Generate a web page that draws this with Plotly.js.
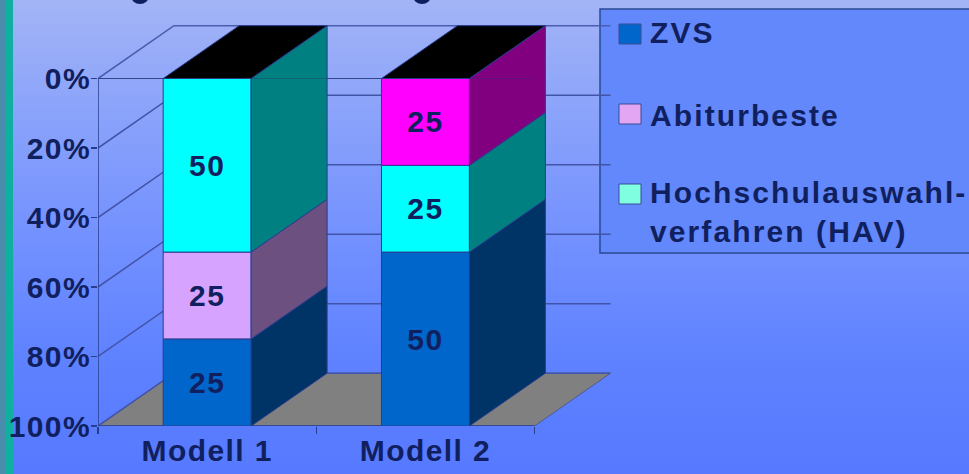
<!DOCTYPE html>
<html>
<head>
<meta charset="utf-8">
<script src="https://cdn.plot.ly/plotly-3.0.1.min.js"></script>
<style>
  html, body { margin: 0; padding: 0; width: 969px; height: 474px; overflow: hidden; }
  body { background: linear-gradient(180deg, #A3B4F6 0%, #8CA4FA 22%, #7391FF 50%, #5F82FF 75%, #5679FF 100%); }
  #chart { width: 969px; height: 474px; }
  #chart text { letter-spacing: 1.4px; }
  #chart .annotation text { letter-spacing: 2.1px; }
</style>
</head>
<body>
<div id="chart"></div>
<script>
// Studienplatz-Vergabe: share of each allocation route per model
const categories = ['Modell 1', 'Modell 2'];
const zvs = [25, 50];
const abiturbeste = [25, 25];
const hav = [50, 25];

const percentTicks = [0, 20, 40, 60, 80, 100];
const legendLabels = ['ZVS', 'Abiturbeste', 'Hochschulauswahl-<br>verfahren (HAV)'];
const legendColors = ['#0066CC', '#E2A6F2', '#80FFE0'];

// Stacking order from the top of each column
const stackOrder = [['hav', 'abiturbeste', 'zvs'], ['abiturbeste', 'hav', 'zvs']];

const seriesValues = { zvs, abiturbeste, hav };
const frontColors = {
  zvs: ['#0066CC', '#0066CC'],
  abiturbeste: ['#D6A3FF', '#FF00FF'],
  hav: ['#00FFFF', '#00FFFF']
};
const sideColors = {
  zvs: ['#003366', '#003366'],
  abiturbeste: ['#6B5080', '#800080'],
  hav: ['#008080', '#008080']
};

// Oblique projection expressed in axis units
const depthX = 0.348;
const depthY = 15.2;
const barWidth = 0.403;
const edge = '#2A3C8E';
const grid = '#4254A8';
const ink = '#10205E';
const fontFamily = '"Liberation Sans", Arial, sans-serif';

const centers = categories.map((_, i) => i + 0.5);

// Cumulative start of every segment, per column
const bases = {};
stackOrder.forEach((order, c) => {
  let run = 0;
  order.forEach(key => {
    (bases[key] = bases[key] || [])[c] = run;
    run += seriesValues[key][c];
  });
});

const seriesKeys = ['hav', 'abiturbeste', 'zvs'];

const frontTraces = seriesKeys.map(key => ({
  type: 'bar',
  x: centers,
  y: seriesValues[key],
  base: bases[key],
  width: barWidth,
  text: seriesValues[key].map(String),
  textposition: 'inside',
  insidetextanchor: 'middle',
  textangle: 0,
  insidetextfont: { family: fontFamily, size: 30, color: ink, weight: 700 },
  marker: { color: frontColors[key], line: { color: edge, width: 1 } },
  hoverinfo: 'skip',
  showlegend: false
}));

function face(xs, ys, fill) {
  return {
    type: 'scatter', mode: 'lines', x: xs, y: ys, fill: 'toself', fillcolor: fill,
    line: { color: edge, width: 1 }, hoverinfo: 'skip', showlegend: false
  };
}

const sideTraces = [];
seriesKeys.forEach(key => {
  centers.forEach((c, i) => {
    const right = c + barWidth / 2;
    const top = bases[key][i];
    const bottom = top + seriesValues[key][i];
    sideTraces.push(face(
      [right, right + depthX, right + depthX, right, right],
      [top, top - depthY, bottom - depthY, bottom, top],
      sideColors[key][i]
    ));
  });
});

const topTraces = centers.map(c => {
  const left = c - barWidth / 2;
  const right = c + barWidth / 2;
  return face(
    [left, left + depthX, right + depthX, right, left],
    [0, -depthY, -depthY, 0, 0],
    '#000000'
  );
});

// Faint front edge of the plot that shows through the columns' side faces
const frontEdge = {
  type: 'scatter', mode: 'lines',
  x: [0, categories.length], y: [0, 0],
  line: { color: 'rgba(40,50,110,0.35)', width: 1 },
  hoverinfo: 'skip', showlegend: false
};

// Geometry of the chart frame: floor, walls, gridlines
const axisEnd = categories.length;
const shapes = [];
shapes.push({
  type: 'path', layer: 'below',
  path: `M 0 100 L ${depthX} ${100 - depthY} L ${axisEnd + depthX} ${100 - depthY} L ${axisEnd} 100 Z`,
  fillcolor: '#808080', line: { color: '#4E5A90', width: 1 }
});
percentTicks.forEach(t => {
  const wallY = t - depthY;
  shapes.push({
    type: 'path', layer: 'below',
    path: `M 0 ${t} L ${depthX} ${wallY} L ${axisEnd + depthX} ${wallY}`,
    line: { color: t === 0 ? '#4A5DB0' : grid, width: 1.5 }
  });
});
shapes.push({ type: 'line', layer: 'below', x0: 0, x1: 0, y0: 0, y1: 100, line: { color: '#2A3C8E', width: 1.5 } });
shapes.push({ type: 'line', layer: 'below', x0: 0, x1: axisEnd, y0: 100, y1: 100, line: { color: '#2A3C8E', width: 1.5 } });
shapes.push({ type: 'line', layer: 'below', x0: 0, x1: axisEnd, y0: 0, y1: 0, line: { color: '#3C51A0', width: 1 } });

// Plot-box placement in pixels
const margin = { l: 98, r: 358, t: 25, b: 48 };
const plotW = 969 - margin.l - margin.r;
const plotH = 474 - margin.t - margin.b;
const paperX = px => (px - margin.l) / plotW;
const paperY = py => 1 - (py - margin.t) / plotH;

function paperRect(x0, y0, x1, y1, fill, line) {
  return {
    type: 'rect', xref: 'paper', yref: 'paper', layer: 'below',
    x0: paperX(x0), x1: paperX(x1), y0: paperY(y0), y1: paperY(y1),
    fillcolor: fill, line: line || { width: 0 }
  };
}

// Slide accent strip on the left edge
shapes.push(paperRect(0, 0, 6, 474, '#4A8CAC'));
shapes.push(paperRect(6, 0, 13, 474, '#10B0A0'));

// Lower ends of the slide heading's letters, cut by the top edge
[140, 422].forEach(cx => {
  shapes.push({
    type: 'circle', xref: 'paper', yref: 'paper', layer: 'below',
    x0: paperX(cx - 9), x1: paperX(cx + 9), y0: paperY(-12), y1: paperY(4),
    fillcolor: '#10205E', line: { width: 0 }
  });
});

// Legend panel
shapes.push(paperRect(600, 9, 975, 253, '#6288FC', { color: '#2A4A94', width: 1.5 }));
const legendSwatchY = [34, 114, 194];
legendColors.forEach((col, i) => {
  shapes.push(paperRect(619, legendSwatchY[i] - 10, 641, legendSwatchY[i] + 10, col, { color: '#3A4C96', width: 1 }));
});

const legendTextY = [33, 115, 212];
const annotations = legendLabels.map((label, i) => ({
  xref: 'paper', yref: 'paper', x: paperX(648), y: paperY(legendTextY[i]),
  xanchor: 'left', yanchor: 'middle', align: 'left', showarrow: false,
  text: label,
  font: { family: fontFamily, size: 30, color: ink, weight: 700 }
}));

const tickFont = { family: fontFamily, size: 30, color: ink, weight: 700 };

const layout = {
  width: 969, height: 474, margin,
  paper_bgcolor: 'rgba(0,0,0,0)', plot_bgcolor: 'rgba(0,0,0,0)',
  barmode: 'overlay', showlegend: false, hovermode: false,
  xaxis: {
    range: [0, 2.35], showgrid: false, zeroline: false, showline: false,
    tickmode: 'array', tickvals: centers, ticktext: categories,
    ticks: '', ticklabelstandoff: 4, tickfont: tickFont,
    minor: { tickmode: 'array', tickvals: [0, 1, 2], ticks: 'outside', ticklen: 7, tickwidth: 1.5, tickcolor: '#2A3C8E', showgrid: false }
  },
  yaxis: {
    range: [100, -15.4], showgrid: false, zeroline: false, showline: false,
    tickmode: 'array', tickvals: percentTicks, ticktext: percentTicks.map(t => t + '%'),
    ticks: 'outside', ticklen: 6, tickwidth: 1.5, tickcolor: '#2A3C8E', tickfont: tickFont,
    ticklabelstandoff: -6
  },
  shapes, annotations
};

Plotly.newPlot('chart', [...frontTraces, ...sideTraces, ...topTraces, frontEdge], layout, { displayModeBar: false, staticPlot: true });
</script>
</body>
</html>
